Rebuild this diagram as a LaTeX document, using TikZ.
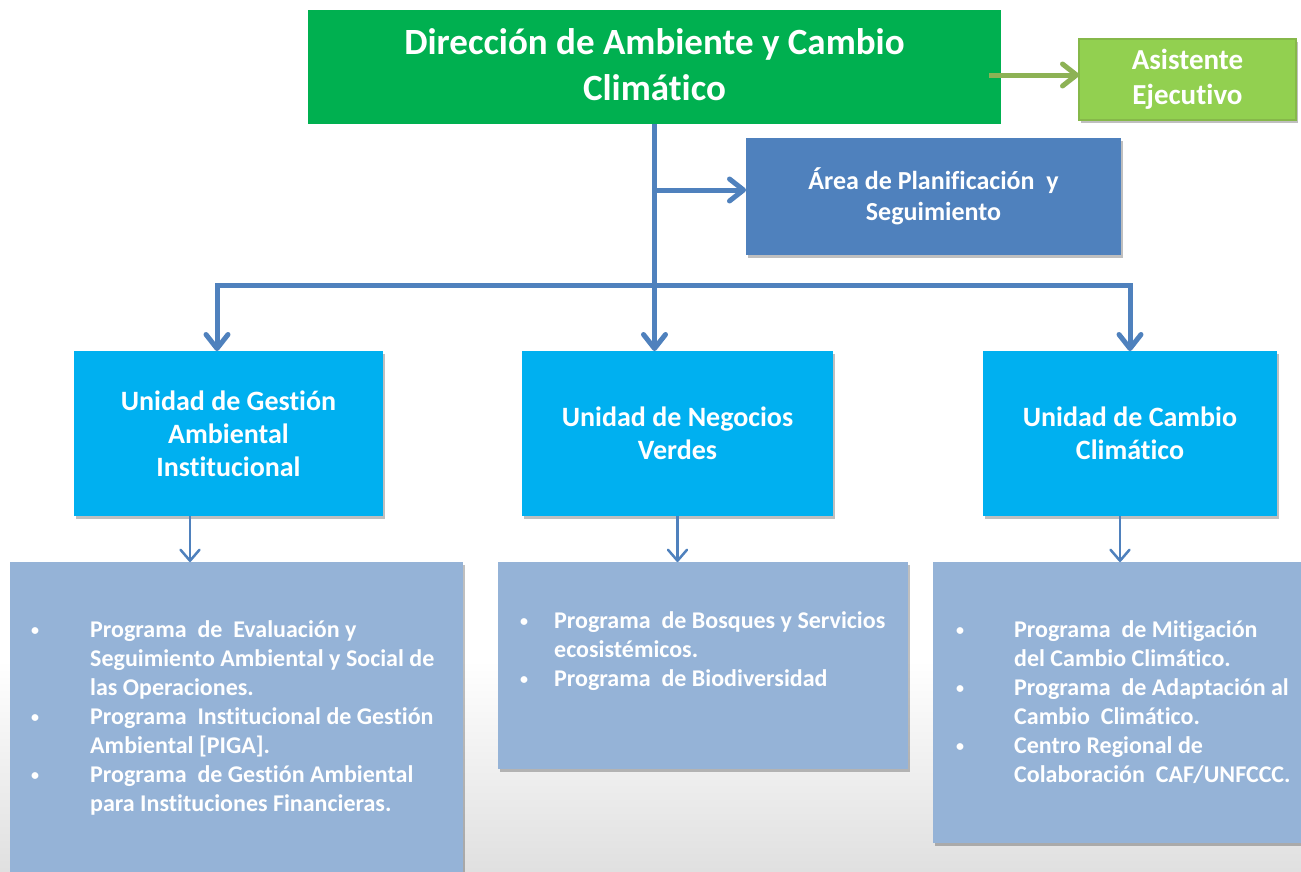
\documentclass[tikz,border=0pt]{standalone}
\usepackage{fontspec}
\setmainfont{Carlito}[Ligatures=CommonOff]
\usetikzlibrary{arrows.meta,shadows}
\definecolor{dirgreen}{HTML}{00B050}
\definecolor{asgreen}{HTML}{92D050}
\definecolor{asborder}{HTML}{86B84A}
\definecolor{arrgreen}{HTML}{8DB255}
\definecolor{areablue}{HTML}{4F81BD}
\definecolor{unitblue}{HTML}{00B0F0}
\definecolor{listblue}{HTML}{95B3D7}
\definecolor{linkblue}{HTML}{4F81BD}
\definecolor{bggray}{HTML}{E0E0E0}
\newcommand{\smallbul}{\raisebox{2pt}{\fontsize{16}{16}\selectfont •}}
\tikzset{
  barbbig/.tip={Straight Barb[length=14pt,width=22pt,round]},
  barbsmall/.tip={Straight Barb[length=11pt,width=19pt,round]},
}
\begin{document}
\begin{tikzpicture}[x=1pt,y=-1pt,
  box/.style={rectangle, inner sep=0pt, outer sep=0pt, anchor=north west, text=white, align=center},
  shadowed/.style={drop shadow={shadow xshift=2pt, shadow yshift=-3pt, opacity=0.25, fill=black}},
  dirbox/.style={box, fill=dirgreen, font=\fontsize{37}{46}\selectfont\bfseries},
  asbox/.style={box, fill=asgreen, draw=asborder, line width=1.5pt, shadowed, font=\fontsize{29}{35}\selectfont\bfseries},
  areabox/.style={box, fill=areablue, shadowed, font=\fontsize{26}{31}\selectfont\bfseries},
  unitbox/.style={box, fill=unitblue, shadowed, minimum height=165pt, font=\fontsize{28}{33}\selectfont\bfseries},
  listbox/.style={box, fill=listblue, shadowed},
  listtext/.style={inner sep=0pt, anchor=base west, text=white, font=\fontsize{24}{29}\selectfont\bfseries},
  thicklink/.style={draw=linkblue, line width=5pt},
  thinlink/.style={draw=linkblue, line width=2.5pt, -barbsmall},
  greenlink/.style={draw=arrgreen, line width=5pt, -barbbig},
]
\useasboundingbox (0,0) rectangle (1301,871);
\fill[white] (0,0) rectangle (1301,871);
\shade[top color=white, bottom color=bggray] (0,660) rectangle (1301,871);

% boxes
\node[dirbox, minimum width=693pt, minimum height=114pt, text depth=4pt] (dir) at (308,10) {Dirección de Ambiente y Cambio\\Climático};
\node[asbox, minimum width=217pt, minimum height=81pt] (asist) at (1079,39) {Asistente\\Ejecutivo};
\node[areabox, minimum width=375pt, minimum height=117pt] (area) at (746,138) {Área de Planificación\ \ y\\Seguimiento};

\node[unitbox, minimum width=309pt] (ugam) at (74,351) {Unidad de Gestión\\Ambiental\\Institucional};
\node[unitbox, minimum width=311pt] (uneg) at (522,351) {Unidad de Negocios\\Verdes};
\node[unitbox, minimum width=294pt] (ucc) at (983,351) {Unidad de Cambio\\Climático};

\node[listbox, minimum width=453pt, minimum height=314pt] (lga) at (10,562) {};
\node[listbox, minimum width=410pt, minimum height=207pt] (lneg) at (498,562) {};
\node[listbox, minimum width=372pt, minimum height=281pt] (lcc) at (933,562) {};

\node[listtext] (lgatext) at (31,637) {\begin{tabular}[t]{@{}p{59pt}@{}l@{}}
\smallbul& Programa\ \ de\ \ Evaluación y\\
 & Seguimiento Ambiental y Social de\\
 & las Operaciones.\\
\smallbul& Programa\ \ Institucional de Gestión\\
 & Ambiental [PIGA].\\
\smallbul& Programa\ \ de Gestión Ambiental\\
 & para Instituciones Financieras.
\end{tabular}};
\node[listtext] (lnegtext) at (520,628) {\begin{tabular}[t]{@{}p{34pt}@{}l@{}}
\smallbul& Programa\ \ de Bosques y Servicios\\
 & ecosistémicos.\\
\smallbul& Programa\ \ de Biodiversidad
\end{tabular}};
\node[listtext] (lcctext) at (956,637) {\begin{tabular}[t]{@{}p{58pt}@{}l@{}}
\smallbul& Programa\ \ de Mitigación\\
 & del Cambio Climático.\\
\smallbul& Programa\ \ de Adaptación al\\
 & Cambio\ \ Climático.\\
\smallbul& Centro Regional de\\
 & Colaboración\ \ CAF/UNFCCC.
\end{tabular}};

% connectors
\coordinate (gstart) at ([xshift=-12pt,yshift=-8pt]dir.east);
\draw[greenlink] (gstart) -- (gstart -| asist.west);

\draw[thicklink, -barbbig] (dir.south) -- (dir.south |- uneg.north);
\coordinate (areain) at ([yshift=6.5pt]area.west);
\draw[thicklink, -barbbig] (areain -| dir.south) -- (areain);
\coordinate (ugamin) at ([xshift=-11.5pt]ugam.north);
\coordinate (barmid) at ([yshift=-161pt]dir.south);
\draw[thicklink, barbbig-barbbig] (ugamin) -- (ugamin |- barmid) -- (ucc.north |- barmid) -- (ucc.north);

\coordinate (ga) at ([xshift=-38.5pt]ugam.south);
\draw[thinlink] (ga) -- (ga |- lga.north);
\draw[thinlink] (uneg.south) -- (uneg.south |- lneg.north);
\coordinate (gc) at ([xshift=-10pt]ucc.south);
\draw[thinlink] (gc) -- (gc |- lcc.north);
\end{tikzpicture}
\end{document}
